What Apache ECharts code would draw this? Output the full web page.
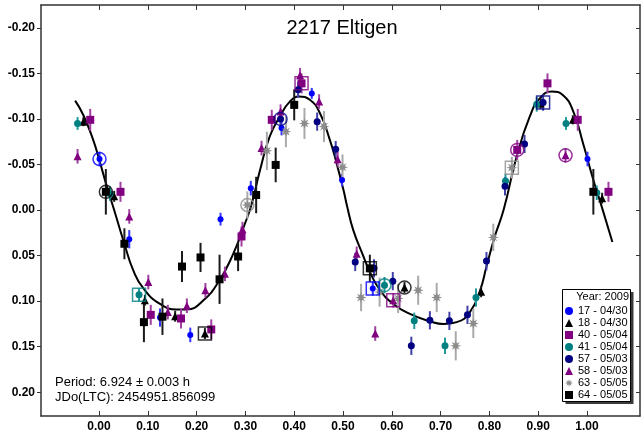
<!DOCTYPE html>
<html>
<head>
<meta charset="utf-8">
<script src="https://cdn.jsdelivr.net/npm/echarts@6/dist/echarts.min.js"></script>
<style>
  html, body { margin: 0; padding: 0; background: #fff; }
  #chart { width: 642px; height: 444px; }
</style>
</head>
<body>
<div id="chart"></div>
<script>
// Phased lightcurve of asteroid 2217 Eltigen: each session is [phase, delta mag, error].
const s17 = [[0.001,-0.056,0.008],[0.062,0.032,0.010],[0.125,0.118,0.010],[0.187,0.137,0.008],[0.249,0.010,0.007],
  [0.311,-0.024,0.008],[0.374,-0.090,0.008],[0.436,-0.128,0.006],[0.498,-0.033,0.007],[0.561,0.086,0.008],[1.001,-0.056,0.008]];
const s18 = [[-0.032,-0.097,0.005],[0.031,-0.015,0.006],[0.094,0.099,0.006],[0.156,0.1165,0.006],[0.217,0.1355,0.006],
  [0.626,0.085,0.006],[0.783,0.0897,0.006],[0.905,-0.117,0.006],[0.971,-0.099,0.005],[1.031,-0.013,0.006]];
const s40 = [[-0.018,-0.099,0.012],[0.044,-0.020,0.011],[0.106,0.115,0.011],[0.168,0.119,0.011],[0.230,0.131,0.011],
  [0.292,0.029,0.011],[0.354,-0.099,0.011],[0.415,-0.139,0.011],[0.857,-0.066,0.011],[0.919,-0.139,0.011],
  [0.981,-0.099,0.012],[1.044,-0.020,0.011]];
const s41 = [[-0.044,-0.095,0.007],[0.0225,-0.018,0.008],[0.082,0.093,0.007],[0.585,0.0824,0.009],[0.646,0.1216,0.009],
  [0.709,0.149,0.009],[0.7725,0.096,0.010],[0.833,-0.032,0.008],[0.897,-0.116,0.008],[0.957,-0.095,0.007],[1.020,-0.019,0.008]];
const s57 = [[0.372,-0.100,0.008],[0.408,-0.132,0.009],[0.447,-0.097,0.010],[0.485,-0.0667,0.009],[0.525,0.057,0.010],
  [0.5635,0.064,0.010],[0.602,0.078,0.010],[0.640,0.149,0.010],[0.678,0.121,0.010],[0.718,0.1216,0.010],
  [0.755,0.115,0.010],[0.794,0.056,0.010],[0.832,-0.026,0.010],[0.872,-0.0725,0.010],[0.910,-0.118,0.009]];
const s58 = [[-0.044,-0.059,0.008],[0.062,0.007,0.008],[0.101,0.079,0.008],[0.141,0.112,0.008],[0.180,0.105,0.008],
  [0.218,0.088,0.008],[0.258,0.070,0.008],[0.294,0.021,0.008],[0.333,-0.068,0.008],[0.372,-0.108,0.008],
  [0.412,-0.148,0.008],[0.451,-0.119,0.008],[0.489,-0.0557,0.008],[0.528,0.048,0.008],[0.566,0.1355,0.008],
  [0.603,0.099,0.008],[0.956,-0.060,0.008]];
const s63 = [[0.304,-0.0055,0.015],[0.344,-0.065,0.021],[0.383,-0.086,0.017],[0.421,-0.095,0.017],[0.461,-0.0916,0.017],
  [0.499,-0.047,0.014],[0.537,0.096,0.015],[0.575,0.090,0.016],[0.613,0.097,0.016],[0.654,0.088,0.016],
  [0.692,0.096,0.016],[0.731,0.149,0.016],[0.767,0.1245,0.016],[0.808,0.030,0.015],[0.846,-0.0465,0.012]];
const s64 = [[0.014,-0.020,0.025],[0.052,0.037,0.017],[0.092,0.123,0.022],[0.130,0.117,0.020],[0.170,0.062,0.017],
  [0.208,0.052,0.016],[0.247,0.076,0.027],[0.285,0.051,0.016],[0.322,-0.0165,0.020],[0.362,-0.0495,0.019],
  [0.400,-0.1154,0.017],[0.555,0.064,0.015],[1.013,-0.020,0.025]];

// Fourier fit of the lightcurve
const fitPhase = [-0.049,-0.032,-0.012,0.000,0.016,0.031,0.052,0.070,0.091,0.125,0.159,0.180,0.214,0.247,0.275,0.299,
  0.313,0.330,0.350,0.371,0.391,0.410,0.432,0.453,0.473,0.487,0.501,0.508,0.521,0.542,0.555,0.576,0.603,0.637,0.678,
  0.706,0.733,0.760,0.781,0.794,0.811,0.829,0.856,0.883,0.904,0.928,0.951,0.972,0.992,1.013,1.030,1.052];
const fitMag = [-0.120,-0.104,-0.077,-0.056,-0.026,0.000,0.037,0.066,0.086,0.103,0.109,0.109,0.099,0.077,0.048,0.015,
  -0.007,-0.044,-0.081,-0.103,-0.119,-0.1245,-0.121,-0.106,-0.077,-0.051,-0.022,-0.005,0.022,0.051,0.068,0.088,0.103,0.114,0.122,
  0.125,0.123,0.112,0.088,0.062,0.029,0.000,-0.059,-0.103,-0.123,-0.130,-0.126,-0.108,-0.073,-0.033,-0.004,0.035];

const phaseTicks = [0, 0.1, 0.2, 0.3, 0.4, 0.5, 0.6, 0.7, 0.8, 0.9, 1.0];
const magTicks = [-0.2, -0.15, -0.1, -0.05, 0, 0.05, 0.1, 0.15, 0.2];

const FONT = '"Liberation Sans", Arial, sans-serif';
// eight-armed asterisk marker
const ASTERISK = 'path://M5,0L2.03,0.84L3.54,3.54L0.84,2.03L0,5L-0.84,2.03L-3.54,3.54L-2.03,0.84L-5,0L-2.03,-0.84L-3.54,-3.54L-0.84,-2.03L0,-5L0.84,-2.03L3.54,-3.54L2.03,-0.84Z';

// Session styling; start/end are indices of the first and last observation of each run.
const sessions = [
  { name: '17 - 04/30', data: s17, color: '#0000ff', bar: '#3535ff', symbol: 'circle',   size: 6,  start: 0,  end: 9 },
  { name: '18 - 04/30', data: s18, color: '#000000', bar: '#222222', symbol: 'triangle', size: 8,  start: 5,  end: 4 },
  { name: '40 - 05/04', data: s40, color: '#800080', bar: '#a040a0', symbol: 'rect',     size: 8,  start: 8,  end: 7 },
  { name: '41 - 05/04', data: s41, color: '#008080', bar: '#209a9a', symbol: 'circle',   size: 7,  start: 3,  end: 2 },
  { name: '57 - 05/03', data: s57, color: '#000080', bar: '#4040a8', symbol: 'circle',   size: 7,  start: 0,  end: 14 },
  { name: '58 - 05/03', data: s58, color: '#800080', bar: '#a040a0', symbol: 'triangle', size: 8,  start: 16, end: 15 },
  { name: '63 - 05/05', data: s63, color: '#8c8c8c', bar: '#aaaaaa', symbol: ASTERISK,   size: 11, start: 0,  end: 14 },
  { name: '64 - 05/05', data: s64, color: '#000000', bar: '#1a1a1a', symbol: 'rect',     size: 8,  start: 0,  end: 11 }
];

const fmt = v => (Math.abs(v) < 1e-9 ? 0 : v).toFixed(2);
const axisLineStyle = { color: '#333', width: 1.5 };

const series = [];
series.push({
  type: 'line', name: 'fit', data: fitPhase.map((p, i) => [p, fitMag[i]]),
  smooth: 0.5, showSymbol: false, silent: true, z: 2,
  lineStyle: { color: '#000', width: 2 }
});
sessions.forEach(s => {
  series.push({
    type: 'custom', name: s.name + ' error', data: s.data, encode: { x: 0, y: 1 }, silent: true, z: 3,
    renderItem: (params, api) => {
      const x = api.value(0), y = api.value(1), e = api.value(2);
      const a = api.coord([x, y - e]), b = api.coord([x, y + e]);
      return { type: 'line', shape: { x1: a[0], y1: a[1], x2: b[0], y2: b[1] }, style: { stroke: s.bar, lineWidth: 2 } };
    }
  });
});
sessions.forEach(s => {
  series.push({
    type: 'scatter', name: s.name, data: s.data.map(d => [d[0], d[1]]),
    symbol: s.symbol, symbolSize: s.size, z: 4, silent: true,
    itemStyle: { color: s.color, opacity: 1 }
  });
});
// Open circles mark the first point of each run, open squares the last.
series.push({
  type: 'scatter', name: 'run start', symbol: 'circle', symbolSize: 13, z: 5, silent: true,
  data: sessions.map(s => ({ value: [s.data[s.start][0], s.data[s.start][1]],
    itemStyle: { color: 'rgba(0,0,0,0)', borderColor: s.color, borderWidth: 1.5 } }))
});
series.push({
  type: 'scatter', name: 'run end', symbol: 'rect', symbolSize: 13, z: 5, silent: true,
  data: sessions.map(s => ({ value: [s.data[s.end][0], s.data[s.end][1]],
    itemStyle: { color: 'rgba(0,0,0,0)', borderColor: s.color, borderWidth: 1.5 } }))
});

const xBase = { type: 'value', min: -0.1189, max: 1.1086, splitLine: { show: false },
  axisLine: { onZero: false, lineStyle: axisLineStyle } };
const yBase = { type: 'value', inverse: true, min: -0.225, max: 0.226, splitLine: { show: false },
  axisLine: { onZero: false, lineStyle: axisLineStyle } };

const chart = echarts.init(document.getElementById('chart'), null, { renderer: 'canvas' });
chart.setOption({
  animation: false,
  backgroundColor: '#fff',
  grid: { left: 41, right: 2, top: 5, bottom: 28 },
  xAxis: [
    Object.assign({}, xBase, { position: 'bottom',
      axisTick: { inside: true, length: 5, customValues: phaseTicks, lineStyle: { color: '#333' } },
      axisLabel: { customValues: phaseTicks, formatter: fmt, fontFamily: FONT, fontSize: 12, fontWeight: 'bold', color: '#000', margin: 5 } }),
    Object.assign({}, xBase, { position: 'top',
      axisTick: { inside: true, length: 5, customValues: phaseTicks, lineStyle: { color: '#333' } },
      axisLabel: { show: false } })
  ],
  yAxis: [
    Object.assign({}, yBase, { position: 'left',
      axisTick: { inside: false, length: 4, customValues: magTicks, lineStyle: { color: '#333' } },
      axisLabel: { customValues: magTicks, formatter: fmt, fontFamily: FONT, fontSize: 12, fontWeight: 'bold', color: '#000', margin: 6 } }),
    Object.assign({}, yBase, { position: 'right',
      axisTick: { inside: true, length: 4, customValues: magTicks, lineStyle: { color: '#333' } },
      axisLabel: { show: false } })
  ],
  legend: {
    data: sessions.map(s => s.name), orient: 'vertical', left: 565, top: 305,
    itemWidth: 8, itemHeight: 8, itemGap: 0, padding: 0, selectedMode: false,
    textStyle: { fontFamily: FONT, fontSize: 11, color: '#000', lineHeight: 12 }
  },
  graphic: [
    { type: 'text', x: 342, y: 28, silent: true,
      style: { text: '2217 Eltigen', font: '20px ' + FONT, fill: '#000', align: 'center', verticalAlign: 'middle', textAlign: 'center', textVerticalAlign: 'middle' } },
    { type: 'text', x: 55, y: 382, silent: true,
      style: { text: 'Period: 6.924 \u00b1 0.003 h', font: '13px ' + FONT, fill: '#000', align: 'left', verticalAlign: 'middle', textAlign: 'left', textVerticalAlign: 'middle' } },
    { type: 'text', x: 55, y: 397, silent: true,
      style: { text: 'JDo(LTC): 2454951.856099', font: '13px ' + FONT, fill: '#000', align: 'left', verticalAlign: 'middle', textAlign: 'left', textVerticalAlign: 'middle' } },
    { type: 'rect', silent: true, z: 1, shape: { x: 565.5, y: 292, width: 68, height: 112 }, style: { fill: '#3a3a3a' } },
    { type: 'rect', silent: true, z: 2, shape: { x: 562.5, y: 289.5, width: 68, height: 112 }, style: { fill: '#fff', stroke: '#000', lineWidth: 1 } },
    { type: 'text', x: 629, y: 296.5, silent: true, z: 3,
      style: { text: 'Year: 2009', font: '11px ' + FONT, fill: '#000', align: 'right', verticalAlign: 'middle', textAlign: 'right', textVerticalAlign: 'middle' } }
  ],
  series: series
});
</script>
</body>
</html>
